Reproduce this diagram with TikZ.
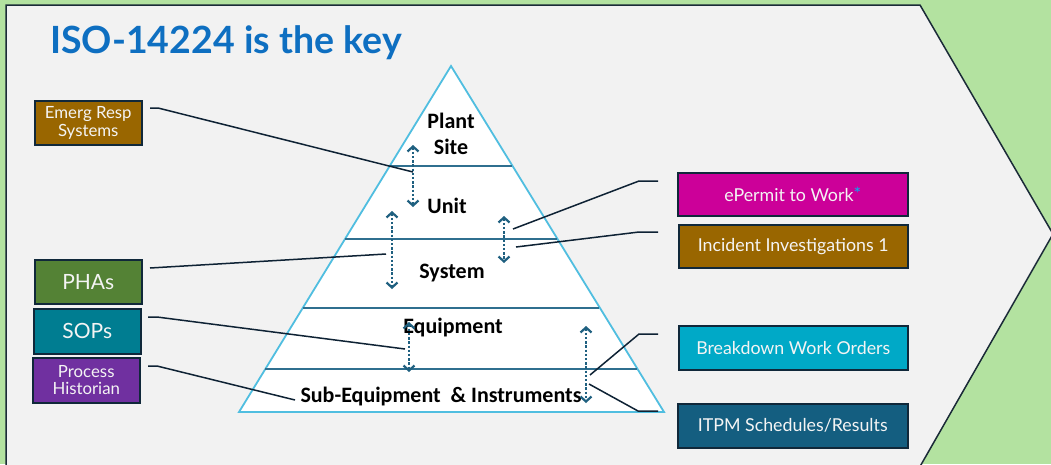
\documentclass[tikz,border=0pt]{standalone}
\usepackage{fontspec}
\setmainfont{Lato}
\newfontfamily\pyrfont{Carlito}
\usetikzlibrary{arrows.meta}
\definecolor{bggreen}{HTML}{B3E2A0}
\definecolor{panel}{HTML}{F2F2F2}
\definecolor{outline}{HTML}{1B2B38}
\definecolor{titleblue}{HTML}{0E6FC1}
\definecolor{pyrblue}{HTML}{50BEE0}
\definecolor{divider}{HTML}{2F6F8F}
\definecolor{arrowteal}{HTML}{1F6080}
\definecolor{connector}{HTML}{0E2234}
\definecolor{brownbox}{HTML}{996600}
\definecolor{greenbox}{HTML}{548235}
\definecolor{tealbox}{HTML}{007D91}
\definecolor{purplebox}{HTML}{7030A0}
\definecolor{magentabox}{HTML}{CC0099}
\definecolor{cyanbox}{HTML}{00A9C7}
\definecolor{navybox}{HTML}{145E80}
\definecolor{boxedge}{HTML}{10283A}
\definecolor{boxtext}{HTML}{F4F4F4}
\definecolor{star}{HTML}{00B0F0}
\begin{document}
\begin{tikzpicture}[x=1pt,y=-1pt,
  infobox/.style={draw=boxedge, line width=1.5pt, text=boxtext, inner sep=0pt,
    align=center, anchor=north west},
  smalltext/.style={font=\fontsize{16.8}{17.5}\selectfont},
  bigtext/.style={font=\fontsize{21}{24}\selectfont},
  midtext/.style={font=\fontsize{17.8}{20}\selectfont},
  level/.style={font=\pyrfont\bfseries\fontsize{22}{26}\selectfont, text=black, align=center, inner sep=0pt},
  link/.style={draw=connector, line width=1.5pt},
  updown/.style={draw=arrowteal, line width=2.6pt, dash pattern=on 2.4pt off 1.8pt,
    {Straight Barb[length=5pt,width=11pt,line width=2.2pt]}-{Straight Barb[length=5pt,width=11pt,line width=2.2pt]}},
  divide/.style={draw=divider, line width=1.2pt}]
\useasboundingbox (0,0) rectangle (1051,464);
\begin{scope}
\clip (0,0) rectangle (1051,464);
\fill[bggreen] (0,0) rectangle (1051,464);
\draw[fill=panel, draw=outline, line width=1.5pt]
  (6,5) -- (920,5) -- (1053,234) -- (918,470) -- (6,470) -- cycle;
\end{scope}

% title
\node[anchor=base west, inner sep=0pt, text=titleblue,
  font=\bfseries\fontsize{37.5}{40}\selectfont] (title) at (50,53) {ISO-14224 is the key};

% pyramid
\draw[fill=white, draw=pyrblue, line width=1.8pt] (451,66) -- (664,412) -- (239,412) -- cycle;
\draw[divide] (390,166) -- (512,166);
\draw[divide] (345,239) -- (557,239);
\draw[divide] (303,308) -- (599,308);
\draw[divide] (265,369) -- (637,369);

\node[level] (plant) at (451,134) {Plant\\Site};
\node[level] (unit) at (447,206) {Unit};
\node[level] (system) at (452,273) {System};
\node[level] (equip) at (453,328) {Equipment};
\node[level] (subeq) at (441,397) {Sub-Equipment\hspace{0.45em}\& Instruments};

% dotted double arrows
\coordinate (a1t) at (413,145); \coordinate (a1b) at (413,207);
\coordinate (a2t) at (392,211); \coordinate (a2b) at (392,289);
\coordinate (a3t) at (504,216); \coordinate (a3b) at (504,263);
\coordinate (a4t) at (409,322); \coordinate (a4b) at (409,372);
\coordinate (a5t) at (586,326); \coordinate (a5b) at (586,403);
\draw[updown] (a1t) -- (a1b);
\draw[updown] (a2t) -- (a2b);
\draw[updown] (a3t) -- (a3b);
\draw[updown] (a4t) -- (a4b);
\draw[updown] (a5t) -- (a5b);

% boxes left
\node[infobox, smalltext, fill=brownbox, minimum width=107pt, minimum height=44pt] (emerg) at (34,100) {Emerg Resp\\Systems};
\node[infobox, bigtext, fill=greenbox, minimum width=107pt, minimum height=44pt] (pha) at (34,259) {PHAs};
\node[infobox, bigtext, fill=tealbox, minimum width=107pt, minimum height=45pt] (sop) at (33,308) {SOPs};
\node[infobox, smalltext, fill=purplebox, minimum width=107pt, minimum height=45pt] (hist) at (32,357) {Process\\Historian};

% boxes right
\node[infobox, midtext, fill=magentabox, minimum width=230pt, minimum height=43pt] (ep) at (677,172) {ePermit to Work\textcolor{star}{\raisebox{1pt}{*}}};
\node[infobox, midtext, fill=brownbox, minimum width=229pt, minimum height=43pt] (inc) at (678,224) {Incident Investigations 1};
\node[infobox, midtext, fill=cyanbox, minimum width=229pt, minimum height=44pt] (bwo) at (678,325) {Breakdown Work Orders};
\node[infobox, midtext, fill=navybox, minimum width=230pt, minimum height=44pt] (itpm) at (677,403) {ITPM Schedules/Results};

% connector end points
\coordinate (c1s) at (150,108); \coordinate (c1e) at (413,172);
\coordinate (c2s) at (150,268); \coordinate (c2e) at (386,254);
\coordinate (c3s) at (148,317); \coordinate (c3e) at (405,349);
\coordinate (c4s) at (148,366); \coordinate (c4e) at (295,400);
\coordinate (c5s) at (658,181); \coordinate (c5e) at (513,229);
\coordinate (c6s) at (658,232); \coordinate (c6e) at (516,247);
\coordinate (c7s) at (658,334); \coordinate (c7e) at (590,375);
\coordinate (c8s) at (658,411); \coordinate (c8e) at (589,384);

\draw[link] (c1s) -- ++(8,0) -- (c1e);
\draw[link] (c2s) -- (c2e);
\draw[link] (c3s) -- ++(9,0) -- (c3e);
\draw[link] (c4s) -- ++(9,0) -- (c4e);
\draw[link] (c5s) -- ++(-19,0) -- (c5e);
\draw[link] (c6s) -- ++(-19,0) -- (c6e);
\draw[link] (c7s) -- ++(-19,0) -- (c7e);
\draw[link] (c8s) -- ++(-20,0) -- (c8e);
\end{tikzpicture}
\end{document}
